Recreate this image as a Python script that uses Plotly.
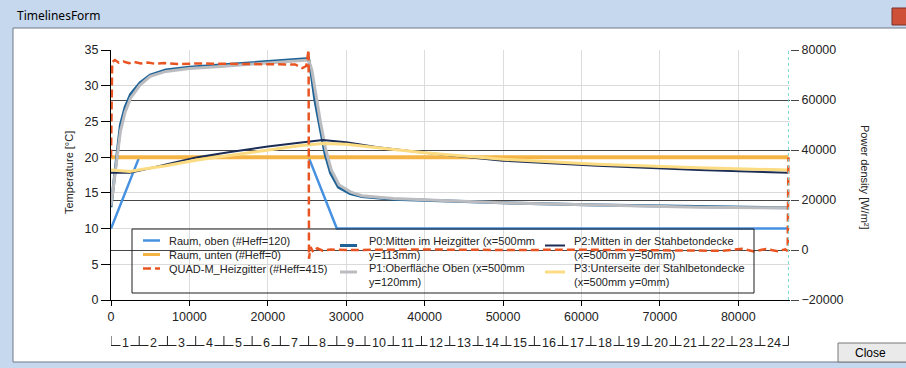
import plotly.graph_objects as go

# ---------------- data ----------------
x_tick_vals = [0, 10000, 20000, 30000, 40000, 50000, 60000, 70000, 80000]
hour_labels = [str(h) for h in range(1, 25)]

raum_oben_t = [0, 3600, 25200, 28800, 86400]
raum_oben_v = [10, 20, 20, 10, 10]

raum_unten_t = [0, 86400]
raum_unten_v = [20, 20]

quad_t = [0, 150, 500, 1000, 1600, 2300, 3000, 3800, 4700, 5600, 6800, 8500, 11000, 15000,
          20000, 23500, 24400, 24900, 25200, 25250, 25450, 25800, 26300, 27000, 28000, 30000,
          40000, 50000, 60000, 70000, 78000, 80500, 82000, 83500, 85000, 86000, 86300, 86400]
quad_w = [37000, 75200, 76000, 74900, 75400, 74700, 75200, 74600, 75000, 74500, 74800, 74400,
          74600, 74400, 74300, 74200, 72800, 73600, 80000, -3500, 1200, -900, 700, -300, 200, 0,
          200, 0, 100, 0, -300, 500, -600, 400, -500, 300, -400, 37000]

p0_t = [0, 400, 800, 1200, 1800, 2500, 3700, 5000, 7000, 10000, 14000, 18000, 22000, 25200,
        25500, 26000, 26600, 27300, 28000, 29000, 30500, 32000, 36000, 43000, 50000, 62000, 75000, 86400]
p0_v = [13.0, 17.0, 21.0, 24.5, 27.0, 28.8, 30.4, 31.5, 32.2, 32.6, 32.9, 33.2, 33.5, 33.8,
        32.0, 28.0, 24.5, 20.5, 17.8, 15.8, 14.9, 14.5, 14.1, 13.8, 13.6, 13.3, 13.1, 12.9]

p1_t = [0, 400, 800, 1200, 1800, 2500, 3700, 5000, 7000, 10000, 14000, 18000, 22000, 25200,
        25600, 26100, 26700, 27400, 28100, 29100, 30600, 32000, 36000, 43000, 50000, 62000, 75000, 86400]
p1_v = [13.2, 16.5, 20.2, 23.6, 26.3, 28.3, 30.1, 31.3, 32.0, 32.4, 32.7, 33.0, 33.3, 33.6,
        32.3, 28.7, 25.0, 21.0, 18.2, 16.1, 15.1, 14.6, 14.2, 13.9, 13.6, 13.3, 13.0, 12.9]

p2_t = [0, 2400, 4000, 7000, 11000, 15000, 20000, 24000, 27000, 30000, 34000, 40000, 50000, 62000, 75000, 86400]
p2_v = [17.8, 17.8, 18.2, 19.0, 20.0, 20.7, 21.5, 22.0, 22.4, 22.1, 21.4, 20.6, 19.5, 18.8, 18.2, 17.8]

p3_t = [0, 2400, 4000, 7000, 11000, 15000, 20000, 24000, 27000, 30000, 34000, 40000, 50000, 62000, 75000, 86400]
p3_v = [18.2, 18.0, 18.3, 18.8, 19.6, 20.2, 21.0, 21.6, 21.9, 21.8, 21.3, 20.6, 19.7, 19.0, 18.5, 18.2]

series_names = [
    "Raum, oben (#Heff=120)",
    "Raum, unten (#Heff=0)",
    "QUAD-M_Heizgitter (#Heff=415)",
    "P0:Mitten im Heizgitter (x=500mm<br>y=113mm)",
    "P1:Oberfläche Oben (x=500mm<br>y=120mm)",
    "P2:Mitten in der Stahbetondecke<br>(x=500mm y=50mm)",
    "P3:Unterseite der Stahlbetondecke<br>(x=500mm y=0mm)",
]

# ---------------- styling ----------------
W, H = 906, 368
L, R, T, B = 111, 790, 50, 300
X_MAX = 86600
DAY_END = 86400
FONT = "Liberation Sans, Arial, sans-serif"
TXT = "rgb(35,35,35)"

colors = ["rgb(70,145,225)", "rgb(245,180,70)", "rgb(232,85,35)", "rgb(30,98,150)",
          "rgb(186,188,192)", "rgb(28,45,85)", "rgb(252,220,130)"]
widths = [2.5, 4, 2.5, 3, 3, 2, 3]
dashes = ["solid", "solid", "8px,4px", "solid", "solid", "solid", "solid"]


def pxx(v):
    return (v - L) / (R - L)


def pxy(v):
    return (B - v) / (B - T)


fig = go.Figure()
series = [(raum_oben_t, raum_oben_v, "y"), (raum_unten_t, raum_unten_v, "y"),
          (quad_t, quad_w, "y2"), (p0_t, p0_v, "y"), (p1_t, p1_v, "y"),
          (p2_t, p2_v, "y"), (p3_t, p3_v, "y")]
for i, (tt, vv, ax) in enumerate(series):
    fig.add_trace(go.Scatter(x=tt, y=vv, mode="lines", yaxis=ax, name=series_names[i],
                             showlegend=False,
                             line=dict(color=colors[i], width=widths[i], dash=dashes[i])))

shapes = []
annotations = []

# window chrome
shapes.append(dict(type="rect", xref="paper", yref="paper", x0=pxx(-2), x1=pxx(W + 2), y0=pxy(-2), y1=pxy(28),
                   fillcolor="rgb(198,216,238)", line=dict(width=0), layer="below"))
shapes.append(dict(type="rect", xref="paper", yref="paper", x0=pxx(13), x1=pxx(W + 2), y0=pxy(28), y1=pxy(362),
                   fillcolor="white", line=dict(color="rgb(110,120,135)", width=1), layer="below"))
shapes.append(dict(type="rect", xref="paper", yref="paper", x0=pxx(892), x1=pxx(W + 2), y0=pxy(8), y1=pxy(25),
                   fillcolor="rgb(205,80,55)", line=dict(color="rgb(120,50,40)", width=1)))
annotations.append(dict(text="TimelinesForm", xref="paper", yref="paper", x=pxx(15), y=pxy(15),
                        xanchor="left", yanchor="middle", showarrow=False,
                        font=dict(family="Noto Sans, " + FONT, size=12, color="black")))
# close button
shapes.append(dict(type="rect", xref="paper", yref="paper", x0=pxx(838), x1=pxx(W + 2), y0=pxy(343), y1=pxy(362),
                   fillcolor="rgb(234,234,234)", line=dict(color="rgb(120,120,120)", width=1)))
annotations.append(dict(text="Close", xref="paper", yref="paper", x=pxx(870), y=pxy(353),
                        xanchor="center", yanchor="middle", showarrow=False,
                        font=dict(family=FONT, size=12, color="black")))

# cursor line at the end of the day
shapes.append(dict(type="line", xref="x", yref="paper", x0=DAY_END, x1=DAY_END, y0=0, y1=1,
                   line=dict(color="rgb(120,215,205)", width=1, dash="dot")))

# legend (manual, three columns)
shapes.append(dict(type="rect", xref="paper", yref="paper", x0=pxx(132), x1=pxx(754), y0=pxy(293), y1=pxy(229),
                   line=dict(color="rgb(30,30,30)", width=1), fillcolor="rgba(0,0,0,0)"))
legend_pos = [  # (sym_x0, sym_x1, sym_y, text_x, text_y)
    (143, 160, 240.5, 167, 240.5),
    (143, 160, 254.5, 167, 254.5),
    (143, 160, 268.5, 167, 268.5),
    (340, 357, 245.5, 367, 247.5),
    (340, 357, 272, 367, 274.5),
    (545, 565, 245.5, 572, 247.5),
    (545, 565, 272, 572, 274.5),
]
for i, (sx0, sx1, sy, tx, ty) in enumerate(legend_pos):
    shapes.append(dict(type="line", xref="paper", yref="paper", x0=pxx(sx0), x1=pxx(sx1), y0=pxy(sy), y1=pxy(sy),
                       line=dict(color=colors[i], width=widths[i] if i != 1 else 3, dash=dashes[i])))
    annotations.append(dict(text=series_names[i], xref="paper", yref="paper", x=pxx(tx), y=pxy(ty),
                            xanchor="left", yanchor="middle", align="left", showarrow=False,
                            font=dict(family=FONT, size=11, color=TXT)))

# axis titles
annotations.append(dict(text="Temperature [°C]", xref="paper", yref="paper", x=pxx(61), y=pxy(173),
                        textangle=-90, showarrow=False, font=dict(family=FONT, size=11, color=TXT)))
annotations.append(dict(text="Power density [W/m²]", xref="paper", yref="paper", x=pxx(873), y=pxy(177),
                        textangle=90, showarrow=False, font=dict(family=FONT, size=11, color=TXT)))

# hour row: bracket line with separators, hour numbers on white background
ROW_LINE = pxy(345.5)
ROW_TOP = pxy(336)
shapes.append(dict(type="line", xref="x", yref="paper", x0=0, x1=DAY_END, y0=ROW_LINE, y1=ROW_LINE,
                   line=dict(color=TXT, width=1)))
for k in range(0, 25):
    shapes.append(dict(type="line", xref="x", yref="paper", x0=3600 * k, x1=3600 * k, y0=ROW_LINE, y1=ROW_TOP,
                       line=dict(color=TXT, width=1)))
for k, lab in enumerate(hour_labels):
    annotations.append(dict(text=lab, xref="x", yref="paper", x=1800 + 3600 * k, y=pxy(343),
                            xanchor="center", yanchor="middle", showarrow=False,
                            bgcolor="white", borderpad=1,
                            font=dict(family=FONT, size=12.5, color=TXT)))

fig.update_layout(
    width=W, height=H,
    margin=dict(l=L, r=W - R, t=T, b=H - B, pad=0),
    paper_bgcolor="rgb(198,216,238)",
    plot_bgcolor="white",
    showlegend=False,
    font=dict(family=FONT, size=12, color=TXT),
    xaxis=dict(range=[0, X_MAX], tickvals=x_tick_vals, tickformat="d", showgrid=True,
               gridcolor="rgb(220,220,220)",
               showline=True, linecolor="black", linewidth=1, ticks="outside", ticklen=5,
               tickcolor="black", zeroline=False, tickfont=dict(size=12.5)),
    yaxis=dict(range=[0, 35], dtick=5, showgrid=True, gridcolor="rgb(218,218,218)",
               showline=True, linecolor="black", linewidth=1, ticks="outside", ticklen=9,
               tickcolor="black", zeroline=False, tickfont=dict(size=12.5)),
    yaxis2=dict(range=[-20000, 80000], dtick=20000, tickformat="d", overlaying="y", side="right",
                showgrid=True, gridcolor="rgb(70,70,70)", gridwidth=1, showline=False,
                ticks="outside", ticklen=8, tickcolor="rgb(70,70,70)", zeroline=False,
                tickfont=dict(size=12.5)),
    shapes=shapes,
    annotations=annotations,
)

fig.write_html("out.html", config={"displayModeBar": False},
               post_script="document.body.style.margin='0';document.body.style.overflow='hidden';")
